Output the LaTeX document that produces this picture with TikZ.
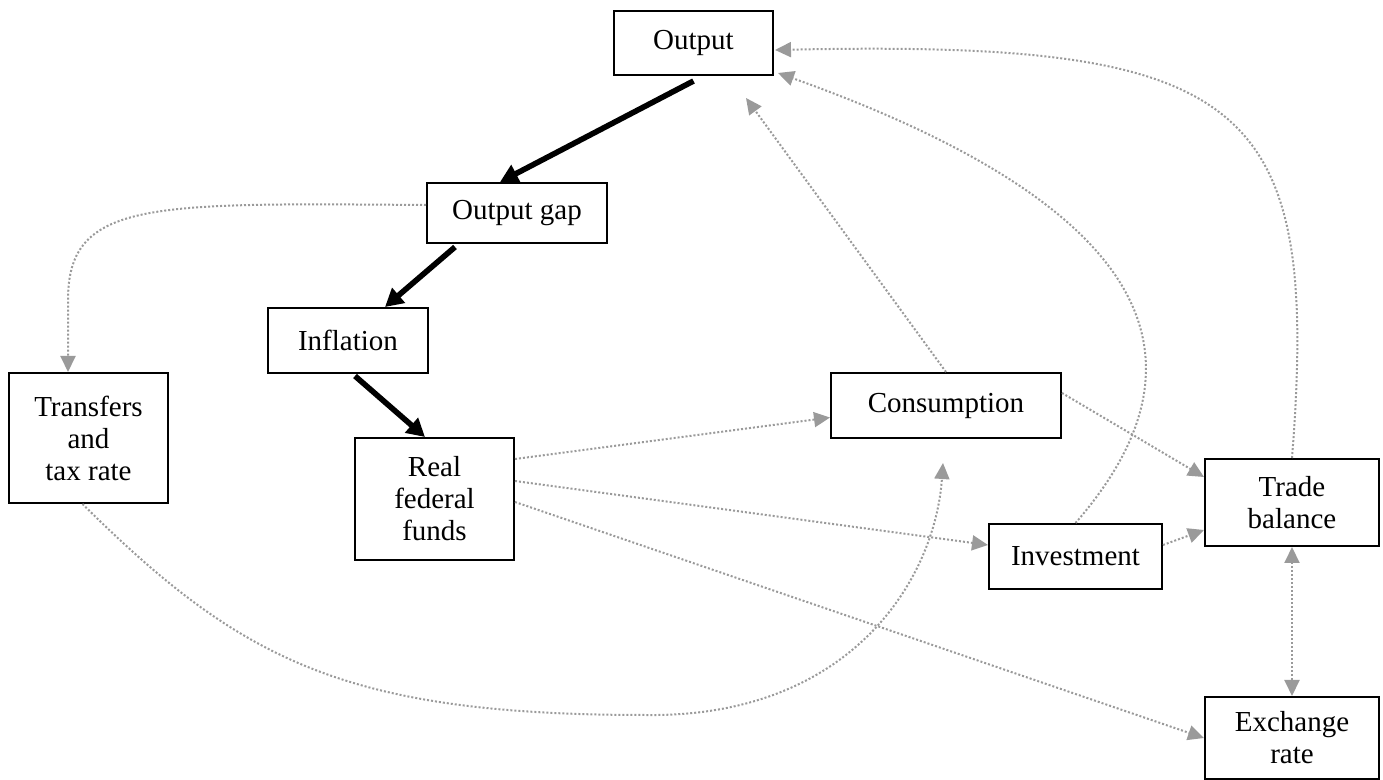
\documentclass[tikz,border=0pt]{standalone}
\usepackage{fontspec}
\setmainfont{Liberation Serif}
\usetikzlibrary{arrows.meta}
\definecolor{arrgray}{HTML}{9A9A9A}
\begin{document}
\begin{tikzpicture}[x=0.5pt,y=-0.5pt,
  box/.style={draw=black, line width=1pt, align=center, inner sep=0pt,
    font=\fontsize{14.5}{16}\selectfont},
  bold/.style={draw=black, line width=2.8pt, -{Triangle[length=9pt,width=9.5pt]}},
  dot/.style={draw=arrgray, line width=1pt, dash pattern=on 1pt off 1pt,
    -{Triangle[length=8pt,width=7.5pt]}, arrgray},
  dotboth/.style={dot, {Triangle[length=8pt,width=7.5pt]}-{Triangle[length=8pt,width=7.5pt]}}]
\useasboundingbox (0,0) rectangle (1383,780);

% boxes
\node[box, minimum width=79.5pt, minimum height=32pt]   (out) at (693.5,43)   {Output};
\node[box, minimum width=90pt,   minimum height=30pt]   (og)  at (517,213)    {Output gap};
\node[box, minimum width=80pt,   minimum height=32.5pt] (inf) at (348,340.5)  {Inflation};
\node[box, minimum width=79.5pt, minimum height=65pt]   (tr)  at (88.5,438)   {Transfers\\and\\tax rate};
\node[box, minimum width=79.5pt, minimum height=61pt]   (rff) at (434.5,499)  {Real\\federal\\funds};
\node[box, minimum width=115pt,  minimum height=32.5pt] (con) at (946,405.5)  {Consumption};
\node[box, minimum width=86.5pt, minimum height=32.5pt] (inv) at (1075.5,556.5) {Investment};
\node[box, minimum width=87pt,   minimum height=43.5pt] (tb)  at (1292,502.5) {Trade\\balance};
\node[box, minimum width=87pt,   minimum height=41pt]   (ex)  at (1292,738)   {Exchange\\rate};

% bold chain
\draw[bold] ([shift={(0,5)}]out.south) -- ([shift={(-17,0)}]og.north);
\draw[bold] ([shift={(-62,3)}]og.south) -- ([shift={(37,0)}]inf.north);
\draw[bold] ([shift={(7,2)}]inf.south) -- ([shift={(-9.5,0)}]rff.north);

% dotted links
\draw[dot] ([shift={(0,-8)}]og.west) .. controls (150,203) and (68,200) .. (68,300)
  -- ([shift={(-20.5,0)}]tr.north);
\draw[dot] ([shift={(-6,0)}]tr.south) .. controls (240,660) and (345,715) .. (645,715)
  .. controls (850,718) and (935,580) .. ([shift={(-3,24)}]con.south);
\draw[dot] (con.north) -- ([shift={(52.5,22)}]out.south);
\draw[dot] (inv.north) .. controls (1200,380) and (1190,220) .. ([shift={(4,-3)}]out.south east);
\draw[dot] (tb.north) .. controls (1320,100) and (1250,40) .. ([shift={(1,7)}]out.east);
\draw[dot] ([shift={(0,-40)}]rff.east) -- ([shift={(0,12)}]con.west);
\draw[dot] ([shift={(0,-18)}]rff.east) -- ([shift={(0,-11.5)}]inv.west);
\draw[dot] ([shift={(0,3)}]rff.east) -- (ex.west);
\draw[dot] ([shift={(0,-12.5)}]con.east) -- ([shift={(0,-25.5)}]tb.west);
\draw[dot] ([shift={(0,-11.5)}]inv.east) -- ([shift={(0,27.5)}]tb.west);
\draw[dotboth] (tb.south) -- (ex.north);
\end{tikzpicture}
\end{document}
